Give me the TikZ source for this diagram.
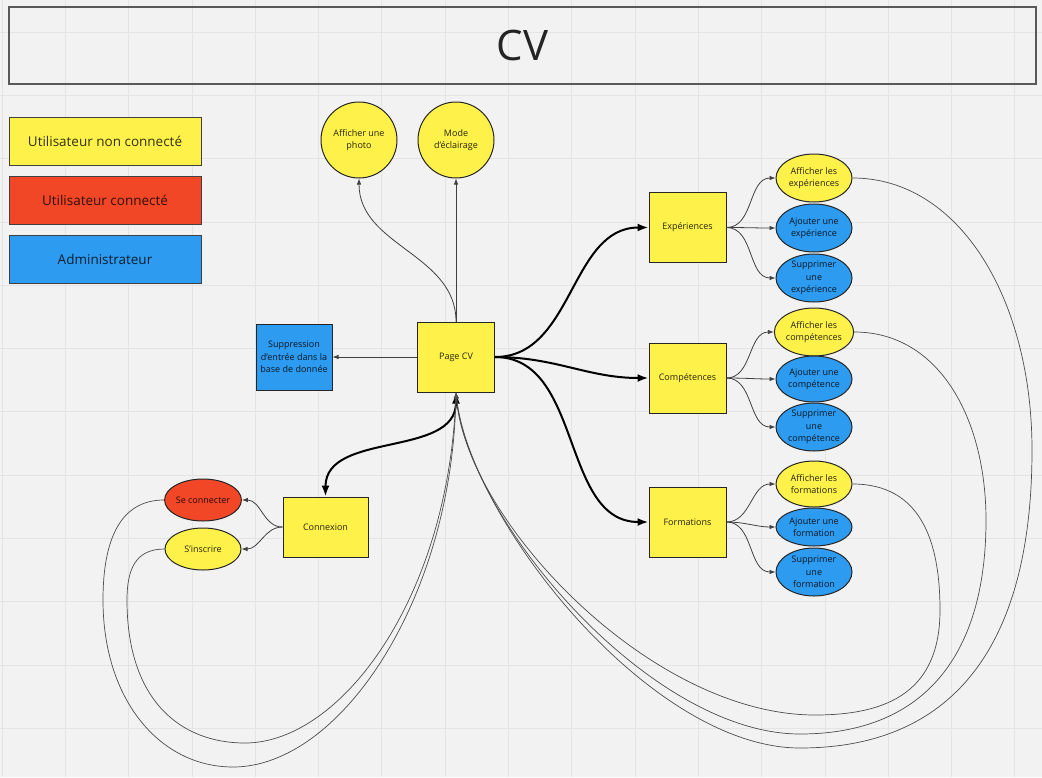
\documentclass[tikz,border=0pt]{standalone}
\usepackage{fontspec}
\setmainfont{Open Sans}
\usetikzlibrary{arrows.meta,shapes.geometric}
\definecolor{jaune}{HTML}{FEF24A}
\definecolor{rouge}{HTML}{F24726}
\definecolor{bleu}{HTML}{2D9BF0}
\definecolor{fond}{HTML}{F2F2F2}
\definecolor{grille}{HTML}{E4E4E4}
\begin{document}
\begin{tikzpicture}[x=1pt,y=1pt,
	petit/.style={font=\fontsize{9}{12.3}\selectfont,align=center,text opacity=.85,draw=black!85,line width=1pt,inner sep=0pt},
	carre/.style={petit,rectangle,fill=jaune,minimum width=77,minimum height=70},
	rond/.style={petit,circle,fill=jaune,minimum size=76},
	ovale/.style={petit,ellipse,minimum width=76,minimum height=#1},
	ovale/.default=48,
	legende/.style={rectangle,draw=black!75,line width=1pt,minimum width=192,minimum height=48,font=\fontsize{13.5}{16}\selectfont,text opacity=.8},
	fin/.style={draw=black!75,line width=.8pt,-{Latex[length=6pt,width=4.5pt]}},
	epais/.style={line width=2pt,-{Latex[length=11pt,width=8pt]}},
	boucle/.style={draw=black!70,line width=.7pt,-{Latex[length=6pt,width=4.5pt]}}]
	\fill[fond] (0,0) rectangle (1042,-777);
	\useasboundingbox (0,0) rectangle (1042,-777);
	\foreach \k in {0,...,16}
	\draw[grille,line width=.8pt] ({2+63.3*\k},0)--({2+63.3*\k},-777);
	\foreach \k in {0,...,11}
	\draw[grille,line width=.8pt] (0,{-32-63.3*\k})--(1042,{-32-63.3*\k});
	% titre et legende
	\node[draw=black!65,line width=1.5pt,minimum width=1027,minimum height=77,font=\fontsize{42}{48}\selectfont,text opacity=.85] (titre) at (522.5,-45.5) {CV};
	\node[legende,fill=jaune] (legU) at (105,-141) {Utilisateur non connecté};
	\node[legende,fill=rouge] (legC) at (105,-200) {Utilisateur connecté};
	\node[legende,fill=bleu] (legA) at (105,-259.5) {Administrateur};
	% noeuds
	\node[carre] (pagecv) at (456,-357) {Page CV};
	\node[carre,fill=bleu,minimum width=76,minimum height=66] (suppr) at (294,-357) {Suppression\\d'entrée dans la\\base de donnée};
	\node[rond] (photo) at (359,-140) {Afficher une\\photo};
	\node[rond] (eclair) at (456,-140) {Mode\\d'éclairage};
	\node[carre] (exp) at (687.5,-227.5) {Expériences};
	\node[carre] (comp) at (687.5,-378) {Compétences};
	\node[carre] (form) at (687.5,-522) {Formations};
	\node[carre,minimum width=85,minimum height=60] (conn) at (325.5,-527) {Connexion};
	\node[ovale=42,fill=rouge] (seco) at (203,-500) {Se connecter};
	\node[ovale=42,fill=jaune] (insc) at (203,-549) {S'inscrire};
	\node[ovale,fill=jaune] (affE) at (814,-178) {Afficher les\\expériences};
	\node[ovale,fill=bleu] (ajE) at (814,-228) {Ajouter une\\expérience};
	\node[ovale,fill=bleu] (supE) at (814,-278) {Supprimer\\une\\expérience};
	\node[ovale,fill=jaune] (affC) at (814,-332) {Afficher les\\compétences};
	\node[ovale=46,fill=bleu] (ajC) at (814,-379) {Ajouter une\\compétence};
	\node[ovale,fill=bleu] (supC) at (814,-427) {Supprimer\\une\\compétence};
	\node[ovale=46,fill=jaune] (affF) at (814,-484) {Afficher les\\formations};
	\node[ovale=38,fill=bleu] (ajF) at (814,-527) {Ajouter une\\formation};
	\node[ovale,fill=bleu] (supF) at (814,-572) {Supprimer\\une\\formation};
	% fleches
	\draw[fin] (pagecv.north)--(eclair.south);
	\draw[fin] (pagecv.north) to[out=90,in=-90] (photo.south);
	\draw[fin] (pagecv.west)--(suppr.east);
	\foreach \s in {exp,comp,form}
	\draw[epais] (pagecv.east) to[out=0,in=180] (\s.west);
	\draw[epais,{Latex[length=11pt,width=8pt]}-{Latex[length=11pt,width=8pt]}] (pagecv.south) to[out=-90,in=90] (conn.north);
	\foreach \e in {affE,ajE,supE}
	\draw[fin] (exp.east) to[out=0,in=180] (\e.west);
	\foreach \e in {affC,ajC,supC}
	\draw[fin] (comp.east) to[out=0,in=180] (\e.west);
	\foreach \e in {affF,ajF,supF}
	\draw[fin] (form.east) to[out=0,in=180] (\e.west);
	\foreach \c in {seco,insc}
	\draw[fin] (conn.west) to[out=180,in=0] (\c.east);
	% retours vers la page CV
	\draw[boucle] (affE.east) .. controls (960,-178) and (1032,-300) .. (1032,-450)
	.. controls (1032,-650) and (950,-748) .. (800,-748)
	.. controls (650,-748) and (470,-520) .. (pagecv.south);
	\draw[boucle] (affC.east) .. controls (940,-332) and (986,-420) .. (986,-520)
	.. controls (986,-660) and (920,-734) .. (800,-734)
	.. controls (650,-734) and (468,-520) .. (pagecv.south);
	\draw[boucle] (affF.east) .. controls (920,-484) and (940,-540) .. (940,-610)
	.. controls (940,-690) and (890,-715) .. (815,-715)
	.. controls (650,-715) and (466,-520) .. (pagecv.south);
	\draw[boucle] (seco.west) .. controls (120,-500) and (103,-540) .. (103,-600)
	.. controls (103,-700) and (160,-767) .. (233,-767)
	.. controls (340,-767) and (452,-600) .. (pagecv.south);
	\draw[boucle] (insc.west) .. controls (135,-549) and (127,-570) .. (127,-600)
	.. controls (127,-700) and (180,-743) .. (245,-743)
	.. controls (340,-743) and (448,-600) .. (pagecv.south);
\end{tikzpicture}
\end{document}
